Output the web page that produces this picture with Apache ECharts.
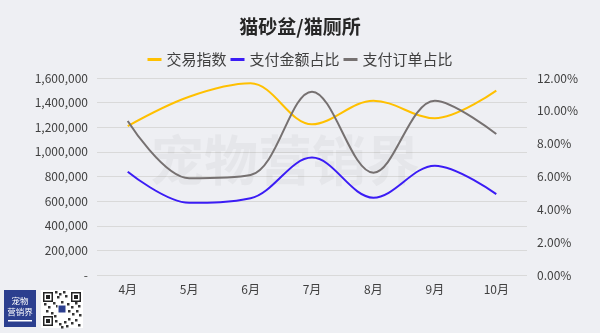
<!DOCTYPE html>
<html>
<head>
<meta charset="utf-8">
<style>
  html, body { margin: 0; padding: 0; background: #eeeff3; }
  #chart { width: 600px; height: 333px; }
</style>
<script src="https://cdn.jsdelivr.net/npm/echarts@6/dist/echarts.min.js"></script>
</head>
<body>
<div id="chart"></div>
<script>
// Monthly figures for cat litter boxes / cat toilets
const months = ['4月', '5月', '6月', '7月', '8月', '9月', '10月'];
const tradeIndex = [1210000, 1448000, 1557000, 1224000, 1416000, 1273000, 1497000];
const payAmountShare = [6.29, 4.40, 4.67, 7.15, 4.71, 6.66, 4.93];
const payOrderShare = [9.38, 5.89, 6.09, 11.17, 6.23, 10.62, 8.59];
const leftTicks = { min: 0, max: 1600000, interval: 200000 };
const rightTicks = { min: 0, max: 12, interval: 2 };

const FONT = '"Noto Sans CJK SC", "Noto Sans", sans-serif';
const chart = echarts.init(document.getElementById('chart'), null, { renderer: 'canvas' });

// Small QR-like badge beside the logo
const qrX = 41, qrY = 290, qrS = 42;
function finder(x, y) {
  return [
    { type: 'rect', shape: { x: x, y: y, width: 10, height: 10 }, style: { fill: '#222' } },
    { type: 'rect', shape: { x: x + 1.5, y: y + 1.5, width: 7, height: 7 }, style: { fill: '#fff' } },
    { type: 'rect', shape: { x: x + 3, y: y + 3, width: 4, height: 4 }, style: { fill: '#222' } }
  ];
}
const qrDots = [[14,3],[18,5],[22,3],[16,8],[24,7],[3,15],[7,18],[12,14],[15,17],[20,13],[26,15],[30,18],[34,14],[37,17],
  [5,22],[10,24],[13,27],[27,22],[31,25],[35,22],[38,26],[14,32],[18,35],[23,33],[27,30],[30,34],[34,31],[37,36],[25,37],[20,38]];
const qrGraphic = [
  { type: 'rect', shape: { x: qrX, y: qrY, width: qrS, height: qrS - 4 }, style: { fill: '#ffffff' } },
  ...finder(qrX + 2, qrY + 2), ...finder(qrX + 30, qrY + 2), ...finder(qrX + 2, qrY + 26),
  ...qrDots.map(d => ({ type: 'rect', shape: { x: qrX + d[0], y: qrY + d[1] - 2, width: 2.5, height: 2.5 }, style: { fill: '#333' } })),
  { type: 'rect', shape: { x: qrX + 17, y: qrY + 15, width: 8, height: 8 }, style: { fill: '#2c3f8f', stroke: '#fff', lineWidth: 1 } }
];

chart.setOption({
  backgroundColor: '#eeeff3',
  animation: false,
  title: {
    text: '猫砂盆/猫厕所',
    left: 'center',
    top: 12,
    textStyle: { fontFamily: FONT, fontSize: 19, fontWeight: 'bold', color: '#262626' }
  },
  legend: {
    top: 47,
    left: 'center',
    itemWidth: 14,
    itemHeight: 3,
    itemGap: 4,
    icon: 'rect',
    textStyle: { fontFamily: FONT, fontSize: 15, color: '#404040' },
    data: ['交易指数', '支付金额占比', '支付订单占比']
  },
  grid: { left: 97, right: 73, top: 78, bottom: 58, containLabel: false },
  xAxis: {
    type: 'category',
    data: months,
    boundaryGap: true,
    axisLine: { show: false },
    axisTick: { show: false },
    axisLabel: { fontFamily: FONT, fontSize: 12, color: '#404040', margin: 8 }
  },
  yAxis: [
    {
      type: 'value',
      min: leftTicks.min, max: leftTicks.max, interval: leftTicks.interval,
      axisLine: { show: false },
      axisTick: { show: false },
      splitLine: { lineStyle: { color: '#d9d9d9', width: 1 } },
      axisLabel: {
        fontFamily: FONT, fontSize: 12, color: '#404040', margin: 9,
        formatter: v => v === 0 ? '-' : v.toLocaleString('en-US')
      }
    },
    {
      type: 'value',
      min: rightTicks.min, max: rightTicks.max, interval: rightTicks.interval,
      axisLine: { show: false },
      axisTick: { show: false },
      splitLine: { show: false },
      axisLabel: {
        fontFamily: FONT, fontSize: 12, color: '#404040', margin: 10,
        formatter: v => v.toFixed(2) + '%'
      }
    }
  ],
  series: [
    {
      name: '交易指数', type: 'line', yAxisIndex: 0, data: tradeIndex,
      smooth: 0.35, symbol: 'none', z: 3,
      lineStyle: { color: '#ffc000', width: 2 }, itemStyle: { color: '#ffc000' }
    },
    {
      name: '支付金额占比', type: 'line', yAxisIndex: 1, data: payAmountShare,
      smooth: 0.35, symbol: 'none', z: 4,
      lineStyle: { color: '#3b1cf5', width: 2 }, itemStyle: { color: '#3b1cf5' }
    },
    {
      name: '支付订单占比', type: 'line', yAxisIndex: 1, data: payOrderShare,
      smooth: 0.35, symbol: 'none', z: 5,
      lineStyle: { color: '#767171', width: 2 }, itemStyle: { color: '#767171' }
    }
  ],
  graphic: [
    {
      type: 'text', left: 150, top: 133, z: 1, silent: true,
      style: {
        text: '宠物营销界', fontFamily: FONT, fontSize: 54, fontWeight: 'bold',
        fill: 'rgba(0,0,0,0.035)'
      }
    },
    {
      type: 'group', z: 10,
      children: [
        { type: 'rect', shape: { x: 4, y: 290, width: 32, height: 37 }, style: { fill: '#2c3f8f' } },
        { type: 'text', style: { x: 20, y: 295, text: '宠物\n营销界', align: 'center', fontFamily: FONT, fontSize: 8.5, lineHeight: 11, fill: '#ffffff' } },
        { type: 'rect', shape: { x: 8, y: 320, width: 24, height: 1.5 }, style: { fill: '#ffffff' } },
        ...qrGraphic
      ]
    }
  ]
});
</script>
</body>
</html>
